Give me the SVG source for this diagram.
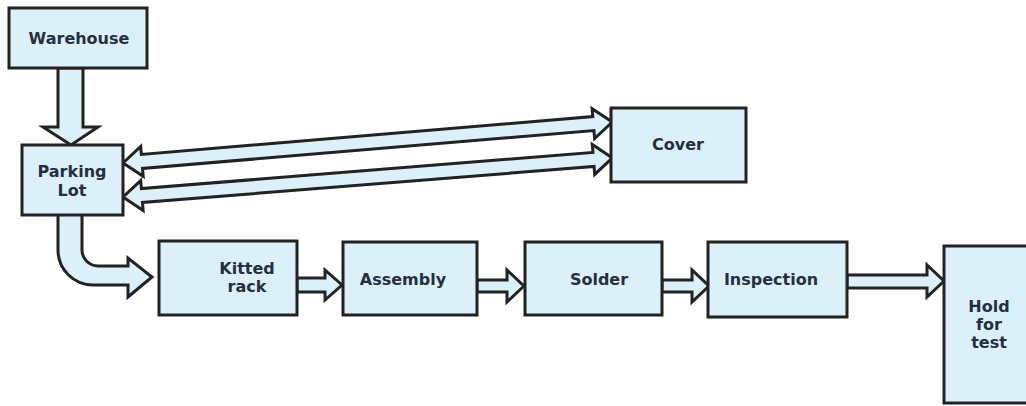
<svg xmlns="http://www.w3.org/2000/svg" width="1026" height="406" viewBox="0 0 1026 406">
  <style>
    .box { fill: #dcf0f9; stroke: #222; stroke-width: 3; }
    .arrow { fill: #dcf0f9; stroke: #222; stroke-width: 3; stroke-linejoin: miter; }
    .label { font-family: "DejaVu Sans", "Liberation Sans", sans-serif; font-weight: bold; font-size: 16px; fill: #24303f; text-anchor: middle; }
  </style>
  <rect width="1026" height="406" fill="#ffffff"/>

  <!-- block arrows -->
  <g id="connectors">
    <!-- Warehouse down to Parking Lot -->
    <polygon class="arrow" points="58,68 83,68 83,127 98,127 71,145 43,127 58,127"/>
    <!-- Parking Lot <-> Cover, upper lane -->
    <polygon class="arrow" transform="translate(123,163) rotate(-4.79)"
      points="0,0 19,-15 19,-7 472,-7 472,-15 491,0 472,15 472,7 19,7 19,15"/>
    <!-- Parking Lot <-> Cover, lower lane -->
    <polygon class="arrow" transform="translate(123,197) rotate(-4.56)"
      points="0,0 19,-15 19,-7 472,-7 472,-15 491,0 472,15 472,7 19,7 19,15"/>
    <!-- Parking Lot bending down and round to Kitted rack -->
    <path class="arrow" d="M58,215 L58,250 A35,35 0 0 0 93,285 L128,285 L128,297 L152,277 L128,258 L128,266 L98,266 A16,16 0 0 1 82,250 L82,215"/>
    <!-- Kitted rack to Assembly -->
    <polygon class="arrow" points="297,278 325,278 325,270 342,285 325,300 325,292 297,292"/>
    <!-- Assembly to Solder -->
    <polygon class="arrow" points="477,280 507,280 507,270 524,286 507,302 507,292 477,292"/>
    <!-- Solder to Inspection -->
    <polygon class="arrow" points="662,280 692,280 692,270 709,286 692,302 692,292 662,292"/>
    <!-- Inspection to Hold for test -->
    <polygon class="arrow" points="847,275 927,275 927,265 944,281 927,297 927,288 847,288"/>
  </g>

  <g id="warehouse">
    <rect class="box" x="9" y="8" width="138" height="60"/>
    <text class="label" x="79" y="44">Warehouse</text>
  </g>

  <g id="parking-lot">
    <rect class="box" x="22" y="145" width="101" height="70"/>
    <text class="label" x="72" y="177">Parking</text>
    <text class="label" x="72" y="196">Lot</text>
  </g>

  <g id="cover">
    <rect class="box" x="611" y="108" width="135" height="74"/>
    <text class="label" x="678" y="150">Cover</text>
  </g>

  <g id="kitted-rack">
    <rect class="box" x="159" y="241" width="138" height="74"/>
    <text class="label" x="247" y="274">Kitted</text>
    <text class="label" x="247" y="292">rack</text>
  </g>

  <g id="assembly">
    <rect class="box" x="343" y="242" width="134" height="73"/>
    <text class="label" x="403" y="285">Assembly</text>
  </g>

  <g id="solder">
    <rect class="box" x="525" y="242" width="137" height="73"/>
    <text class="label" x="599" y="285">Solder</text>
  </g>

  <g id="inspection">
    <rect class="box" x="708" y="242" width="139" height="75"/>
    <text class="label" x="771" y="285">Inspection</text>
  </g>

  <g id="hold-for-test">
    <rect class="box" x="944" y="246" width="90" height="157"/>
    <text class="label" x="989" y="312">Hold</text>
    <text class="label" x="989" y="330">for</text>
    <text class="label" x="989" y="348">test</text>
  </g>
</svg>
